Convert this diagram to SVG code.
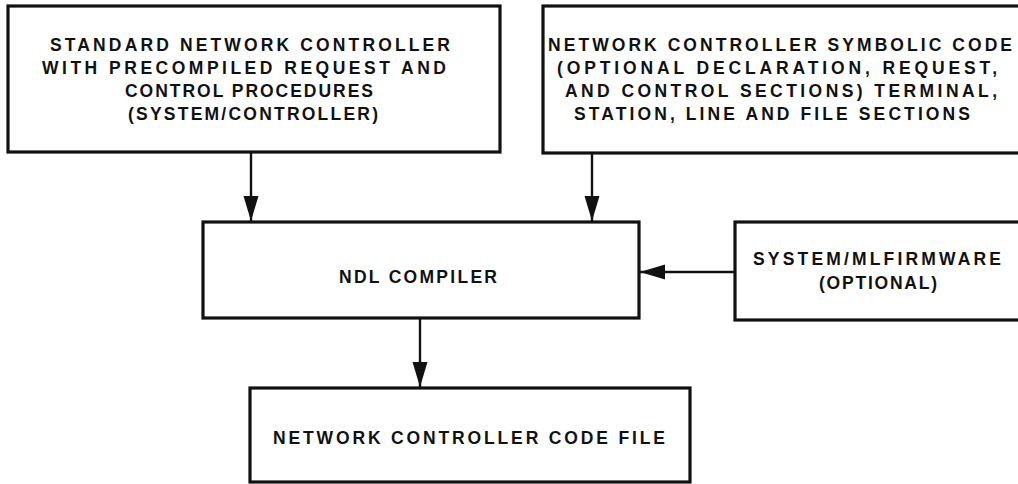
<svg xmlns="http://www.w3.org/2000/svg" width="1018" height="484" viewBox="0 0 1018 484">
<style>
.box{fill:#fff;stroke:#111;stroke-width:3.2}
.t{font-family:"Liberation Sans",Arial,sans-serif;font-weight:bold;font-size:17.5px;fill:#111;text-anchor:middle}
.c{stroke:#111;stroke-width:2.4;fill:none}
</style>
<defs>
<marker id="ah" markerUnits="userSpaceOnUse" markerWidth="27" markerHeight="16" refX="25" refY="8" orient="auto">
<path d="M0,0.5 L25,8 L0,15.5 Z" fill="#111"/>
</marker>
</defs>
<rect width="1018" height="484" fill="#fff"/>
<g id="n1">
<rect class="box" x="8" y="6" width="492" height="146"/>
<text class="t" x="250" y="51" textLength="400" lengthAdjust="spacing">STANDARD NETWORK CONTROLLER</text>
<text class="t" x="244" y="74" textLength="404" lengthAdjust="spacing">WITH PRECOMPILED REQUEST AND</text>
<text class="t" x="249" y="97" textLength="248" lengthAdjust="spacing">CONTROL PROCEDURES</text>
<text class="t" x="253" y="120" textLength="250" lengthAdjust="spacing">(SYSTEM/CONTROLLER)</text>
</g>
<g id="n2">
<rect class="box" x="543" y="6" width="490" height="147"/>
<text class="t" x="780" y="51" textLength="464" lengthAdjust="spacing">NETWORK CONTROLLER SYMBOLIC CODE</text>
<text class="t" x="777" y="74" textLength="440" lengthAdjust="spacing">(OPTIONAL DECLARATION, REQUEST,</text>
<text class="t" x="781" y="97" textLength="432" lengthAdjust="spacing">AND CONTROL SECTIONS) TERMINAL,</text>
<text class="t" x="772" y="120" textLength="396" lengthAdjust="spacing">STATION, LINE AND FILE SECTIONS</text>
</g>
<g id="n3">
<rect class="box" x="203" y="222" width="436" height="96"/>
<text class="t" x="418" y="283" textLength="158" lengthAdjust="spacing">NDL COMPILER</text>
</g>
<g id="n4">
<rect class="box" x="735" y="222" width="300" height="98"/>
<text class="t" x="877" y="265" textLength="248" lengthAdjust="spacing">SYSTEM/MLFIRMWARE</text>
<text class="t" x="878" y="289" textLength="118" lengthAdjust="spacing">(OPTIONAL)</text>
</g>
<g id="n5">
<rect class="box" x="250" y="388" width="440" height="94"/>
<text class="t" x="469" y="444" textLength="392" lengthAdjust="spacing">NETWORK CONTROLLER CODE FILE</text>
</g>
<g id="connectors">
<line class="c" x1="251" y1="152" x2="251" y2="221" marker-end="url(#ah)"/>
<line class="c" x1="592" y1="153" x2="592" y2="221" marker-end="url(#ah)"/>
<line class="c" x1="735" y1="272" x2="640" y2="272" marker-end="url(#ah)"/>
<line class="c" x1="420" y1="318" x2="420" y2="387" marker-end="url(#ah)"/>
</g>
</svg>
